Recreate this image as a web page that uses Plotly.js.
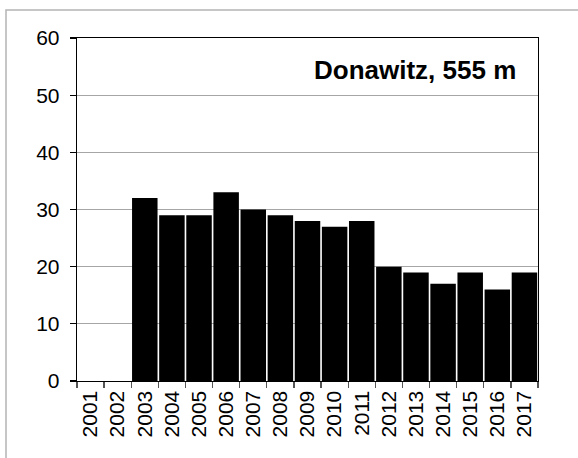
<!DOCTYPE html>
<html>
<head>
<meta charset="utf-8">
<script src="https://cdn.plot.ly/plotly-3.0.1.min.js"></script>
<style>html,body{margin:0;padding:0;background:#fff;}#chart{width:578px;height:458px;}</style>
</head>
<body>
<div id="chart"></div>
<script>
const years = ["2001","2002","2003","2004","2005","2006","2007","2008","2009","2010","2011","2012","2013","2014","2015","2016","2017"];
const values = [null, null, 32, 29, 29, 33, 30, 29, 28, 27, 28, 20, 19, 17, 19, 16, 19];
const yTicks = [0, 10, 20, 30, 40, 50, 60];
const stationLabel = "Donawitz, 555 m";

const L = 77, R = 40, T = 38, B = 77, W = 578, H = 458;
const pw = W - L - R, ph = H - T - B;

const trace = {
  type: "bar",
  x: years,
  y: values,
  marker: {color: "#000000", line: {width: 0}},
  hoverinfo: "x+y"
};

const layout = {
  width: W, height: H,
  margin: {l: L, r: R, t: T, b: B, pad: 0},
  paper_bgcolor: "#ffffff",
  plot_bgcolor: "#ffffff",
  font: {family: "Liberation Sans, Arial, sans-serif", color: "#000000", size: 21},
  showlegend: false,
  bargap: 0.06,
  xaxis: {
    type: "category",
    tickson: "boundaries",
    ticks: "outside",
    ticklen: 6,
    tickwidth: 1.3,
    tickcolor: "#555555",
    tickangle: -90,
    tickfont: {size: 21},
    showline: true,
    linecolor: "#000000",
    linewidth: 1.3,
    mirror: true,
    showgrid: false,
    zeroline: false
  },
  yaxis: {
    range: [0, 60],
    tickvals: yTicks,
    ticks: "outside",
    ticklen: 6,
    tickwidth: 1.3,
    tickcolor: "#000000",
    tickfont: {size: 21},
    ticklabelstandoff: 6,
    showline: true,
    linecolor: "#000000",
    linewidth: 1.3,
    mirror: true,
    showgrid: true,
    gridcolor: "#a6a6a6",
    gridwidth: 1.3,
    zeroline: false
  },
  annotations: [{
    text: "<b>" + stationLabel + "</b>",
    xref: "paper", yref: "paper",
    x: (518 - L) / pw, y: (H - B - 70) / ph,
    xanchor: "right", yanchor: "middle",
    showarrow: false,
    font: {size: 26, color: "#000000"}
  }],
  shapes: [{
    type: "rect",
    xref: "paper", yref: "paper",
    x0: (6 - L) / pw, x1: 2,
    y0: -2, y1: (H - B - 10) / ph,
    line: {color: "#b4b4b4", width: 1.5},
    fillcolor: "rgba(0,0,0,0)",
    layer: "below"
  }]
};

Plotly.newPlot("chart", [trace], layout, {displayModeBar: false, staticPlot: true});
</script>
</body>
</html>
